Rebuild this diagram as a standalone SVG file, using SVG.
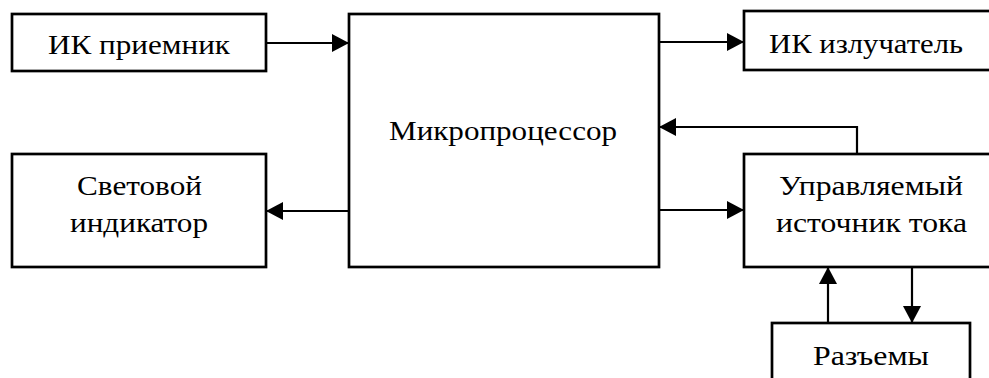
<svg xmlns="http://www.w3.org/2000/svg" width="989" height="378" viewBox="0 0 989 378">
<style>
.box{fill:#fff;stroke:#000;stroke-width:2.7}
.t{font-family:"Liberation Serif","Times New Roman",serif;font-size:28px;fill:#000;text-anchor:middle}
.c{fill:none;stroke:#000;stroke-width:2.2}
</style>
<defs>
<marker id="ah" markerUnits="userSpaceOnUse" markerWidth="18" markerHeight="18" refX="17" refY="9" orient="auto">
<path d="M0,0 L17,9 L0,18 z" fill="#000"/>
</marker>
</defs>
<rect width="989" height="378" fill="#fff"/>
<g id="connectors">
<line class="c" x1="266" y1="43" x2="349" y2="43" marker-end="url(#ah)"/>
<line class="c" x1="659" y1="42" x2="744" y2="42" marker-end="url(#ah)"/>
<line class="c" x1="349" y1="211" x2="266" y2="211" marker-end="url(#ah)"/>
<polyline class="c" points="857,154 857,127 659,127" marker-end="url(#ah)"/>
<line class="c" x1="659" y1="210" x2="744" y2="210" marker-end="url(#ah)"/>
<line class="c" x1="828" y1="323" x2="828" y2="267" marker-end="url(#ah)"/>
<line class="c" x1="912" y1="267" x2="912" y2="323" marker-end="url(#ah)"/>
</g>
<g id="ik-receiver">
<rect class="box" x="12" y="14" width="254" height="57"/>
<text class="t" x="139" y="54" textLength="182" lengthAdjust="spacingAndGlyphs">ИК приемник</text>
</g>
<g id="microprocessor">
<rect class="box" x="349" y="14" width="310" height="253"/>
<text class="t" x="503" y="140" textLength="228" lengthAdjust="spacingAndGlyphs">Микропроцессор</text>
</g>
<g id="ik-emitter">
<rect class="box" x="744" y="11" width="252" height="59"/>
<text class="t" x="866" y="53" textLength="194" lengthAdjust="spacingAndGlyphs">ИК излучатель</text>
</g>
<g id="light-indicator">
<rect class="box" x="12" y="154" width="254" height="113"/>
<text class="t" x="139.5" y="195" textLength="125" lengthAdjust="spacingAndGlyphs">Световой</text>
<text class="t" x="139" y="232" textLength="138" lengthAdjust="spacingAndGlyphs">индикатор</text>
</g>
<g id="current-source">
<rect class="box" x="744" y="154" width="252" height="113"/>
<text class="t" x="871" y="195" textLength="184" lengthAdjust="spacingAndGlyphs">Управляемый</text>
<text class="t" x="871.5" y="232" textLength="191" lengthAdjust="spacingAndGlyphs">источник тока</text>
</g>
<g id="connectors-block">
<rect class="box" x="772" y="323" width="198" height="70"/>
<text class="t" x="871" y="365" textLength="116" lengthAdjust="spacingAndGlyphs">Разъемы</text>
</g>
</svg>
